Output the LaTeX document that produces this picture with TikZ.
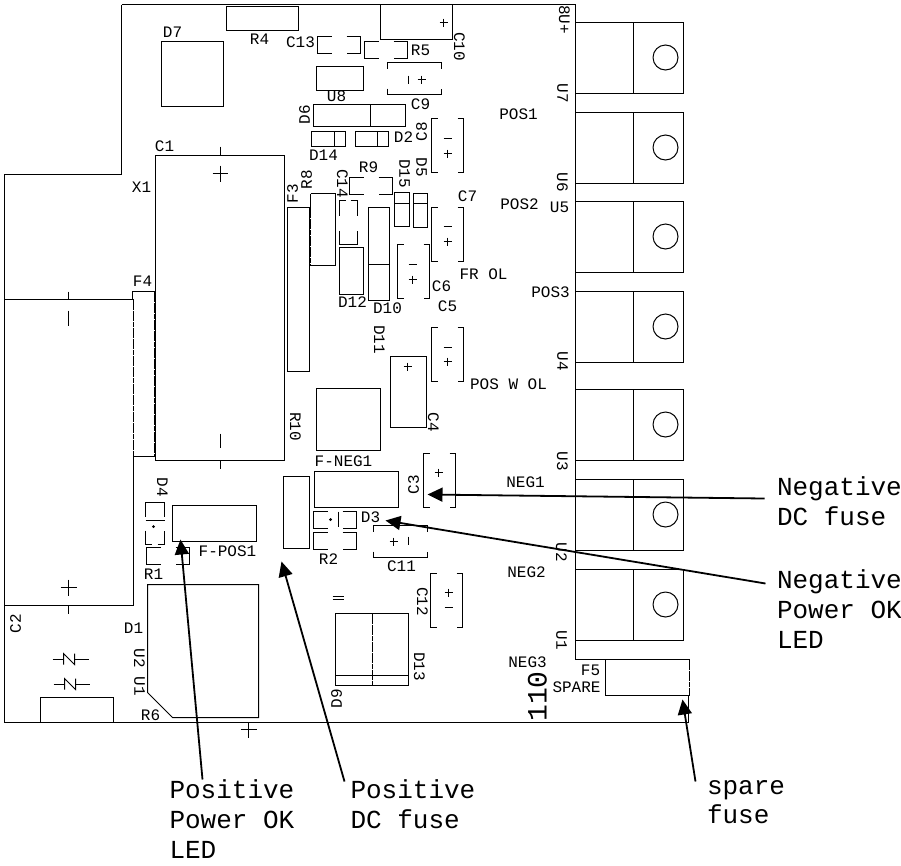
\documentclass[tikz,border=0pt]{standalone}
\usepackage{fontspec}
\setmainfont{Liberation Mono}
\usetikzlibrary{arrows.meta}
\tikzset{
lbl/.style={font=\fontsize{16}{16}\selectfont, inner sep=0pt},
cw/.style={lbl, rotate=-90},
ccw/.style={lbl, rotate=90},
callout/.style={font=\fontsize{26}{29.8}\selectfont, align=left, anchor=north west, inner sep=0pt},
leader/.style={line width=1.8pt, -{Triangle[length=15pt,width=14pt]}},
jag/.style={line width=1.5pt, dash pattern=on 5pt off 0.6pt},
tobox/.pic={
  \draw (0,0) rectangle (108,71);
  \draw (58,0) -- (58,71);
  \draw (90,35) circle [radius=12.5];
  },
capbox/.pic={
  \draw (6,0) -- (0,0) -- (0,54) -- (6,54);
  \draw (26,0) -- (32,0) -- (32,54) -- (26,54);
  },
capwide/.pic={
  \draw (0,6) -- (0,0) -- (54,0) -- (54,6);
  \draw (0,26) -- (0,32) -- (54,32) -- (54,26);
  },
brkpair/.pic={
  \draw (14,0) -- (0,0) -- (0,17) -- (14,17);
  \draw (29,0) -- (43,0) -- (43,17) -- (29,17);
  },
plusm/.pic={
  \draw (-4,0) -- (4,0);
  \draw (0,-4) -- (0,4);
  },
minush/.pic={
  \draw (-4,0) -- (4,0);
  },
minusv/.pic={
  \draw (0,-4) -- (0,4);
  },
nmark/.pic={
  \draw (-18,0) -- (-7,0);
  \draw (-7,5) -- (-7,-6) -- (4,5) -- (4,-6);
  \draw (4,0) -- (18,0);
  }
}
\begin{document}
\begin{tikzpicture}[x=1pt,y=-1pt,line width=1pt]
  \useasboundingbox (-0.5,-0.5) rectangle (900.5,864.5);
  \draw (121,4) -- (575,4) -- (575,659) -- (605,659);
  \draw (688,695) -- (688,722) -- (4,722) -- (4,174) -- (121,174) -- (121,4);
  \pic at (575,22) {tobox};
  \pic at (575,112) {tobox};
  \pic at (575,201) {tobox};
  \pic at (575,291) {tobox};
  \pic at (575,389) {tobox};
  \pic at (575,479) {tobox};
  \pic at (575,569) {tobox};
  \draw (605,659) -- (689,659);
  \draw (689,695) -- (605,695) -- (605,659);
  \draw[jag] (689,659) -- (689,695);

  \draw (161,41) rectangle (223,106);
  \draw (226,6) rectangle (298,30);
  \draw (380,4) -- (380,39) -- (452,39) -- (452,4);
  \draw (316,66) rectangle (363,90);
  \draw (313,104) rectangle (405,126);
  \draw (370,104) -- (370,126);
  \draw (311,131) rectangle (345,146);
  \draw (334,131) -- (334,146);
  \draw (355,131) rectangle (388,146);
  \draw (377,131) -- (377,146);

  \draw (155,460) -- (155,155) -- (284,155) -- (284,460) -- cycle;
  \draw (220,146) -- (220,155);
  \draw (220,460) -- (220,468);
  \draw (220,433) -- (220,447);
  \draw (212,173) -- (227,173);
  \draw (220,165) -- (220,181);
  \draw (4,299) -- (133,299);
  \draw (133,456) -- (133,605) -- (4,605);
  \draw[jag] (4,299) -- (4,605);
  \draw[jag] (133,299) -- (133,456);
  \draw (68,291) -- (68,299);
  \draw (68,310) -- (68,325);
  \draw (68,605) -- (68,613);
  \draw (60,587) -- (76,587);
  \draw (68,579) -- (68,595);
  \draw (132,299) -- (132,291) -- (154,291);
  \draw (133,456) -- (154,456);
  \draw[jag] (154,291) -- (154,456);

  \draw (287,207) rectangle (309,371);
  \draw (310,193) -- (335,193) -- (335,265) -- (310,265);
  \draw (310,193) -- (310,207);
  \draw[jag] (310,207) -- (310,265);
  \draw (339,215) -- (339,200) -- (345,200);
  \draw (350,200) -- (357,200) -- (357,215);
  \draw (339,230) -- (339,244) -- (357,244) -- (357,230);
  \draw (339,247) rectangle (363,294);
  \draw (368,207) rectangle (389,300);
  \draw (368,264) -- (389,264);
  \draw (394,192) rectangle (409,226);
  \draw (394,203) -- (409,203);
  \draw (413,193) rectangle (427,227);
  \draw (413,203) -- (427,203);

  \pic at (431,118) {capbox};
  \pic at (447,138) {minush};
  \pic at (447,153) {plusm};
  \pic at (431,207) {capbox};
  \pic at (447,226) {minush};
  \pic at (447,241) {plusm};
  \pic at (397,244) {capbox};
  \pic at (412,264) {minush};
  \pic at (412,279) {plusm};
  \pic at (431,327) {capbox};
  \pic at (447,347) {minush};
  \pic at (447,361) {plusm};
  \pic at (423,453) {capbox};
  \pic at (438,472) {plusm};
  \pic at (430,573) {capbox};
  \pic at (448,592) {plusm};
  \pic at (448,607) {minush};
  \pic at (387,62) {capwide};
  \pic at (408,79) {minusv};
  \pic at (421,79) {plusm};
  \pic at (373,525) {capwide};
  \pic at (393,541) {plusm};
  \pic at (408,540) {minusv};
  \pic at (443,22) {plusm};
  \pic at (317,36) {brkpair};
  \pic at (364,41) {brkpair};
  \pic at (349,177) {brkpair};
  \pic at (313,532) {brkpair};
  \pic at (146,547) {brkpair};
  \pic at (313,511) {brkpair};
  \draw (338,511) -- (338,526);
  \draw[fill] (330,519) circle [radius=0.8];

  \draw (316,388) rectangle (380,450);
  \draw (390,356) rectangle (426,427);
  \pic at (407,366) {plusm};
  \draw (314,471) rectangle (398,507);
  \draw (283,476) rectangle (309,548);
  \draw (172,505) rectangle (256,541);
  \draw (145,516) -- (145,502) -- (164,502) -- (164,516);
  \draw (145,520) -- (164,520);
  \draw (145,530) -- (145,544) -- (151,544);
  \draw (157,544) -- (164,544) -- (164,530);
  \draw[fill] (153,526) circle [radius=0.8];
  \draw (147,692) -- (147,584) -- (258,584) -- (258,717) -- (172,717) -- cycle;
  \draw (240,729) -- (256,729);
  \draw (248,722) -- (248,737);
  \draw (40,722) -- (40,697) -- (113,697) -- (113,722);
  \pic at (70,659) {nmark};
  \pic at (71,684) {nmark};
  \draw (335,613) rectangle (408,685);
  \draw[jag] (372,613) -- (372,685);
  \draw (335,675) -- (408,675);
  \draw (332,596) -- (343,596);
  \draw (332,599) -- (343,599);

  \node[lbl] (lblD7) at (172,32) {D7};
  \node[lbl] (lblR4) at (259,39) {R4};
  \node[lbl] (lblC13) at (300,42) {C13};
  \node[lbl] (lblR5) at (420,50) {R5};
  \node[lbl] (lblU8) at (336,96) {U8};
  \node[lbl] (lblC9) at (420,104) {C9};
  \node[lbl] (lblD2) at (403,137) {D2};
  \node[lbl] (lblD14) at (323,155) {D14};
  \node[lbl] (lblC1) at (164,146) {C1};
  \node[lbl] (lblX1) at (141,187) {X1};
  \node[lbl] (lblR9) at (368,167) {R9};
  \node[lbl] (lblF4) at (142,281) {F4};
  \node[lbl] (lblPOS1) at (518,114) {POS1};
  \node[lbl] (lblPOS2) at (519,204) {POS2};
  \node[lbl] (lblU5) at (559,207) {U5};
  \node[lbl] (lblC7) at (467,196) {C7};
  \node[lbl] (lblFR) at (483,274) {FR OL};
  \node[lbl] (lblC6) at (441,286) {C6};
  \node[lbl] (lblPOS3) at (550,292) {POS3};
  \node[lbl] (lblC5) at (447,306) {C5};
  \node[lbl] (lblD12) at (352,302) {D12};
  \node[lbl] (lblD10) at (387,308) {D10};
  \node[lbl] (lblPOSW) at (508,384) {POS W OL};
  \node[lbl] (lblFNEG) at (343,461) {F-NEG1};
  \node[lbl] (lblNEG1) at (525,482) {NEG1};
  \node[lbl] (lblD3) at (370,517) {D3};
  \node[lbl] (lblR2) at (328,559) {R2};
  \node[lbl] (lblC11) at (401,566) {C11};
  \node[lbl] (lblNEG2) at (526,572) {NEG2};
  \node[lbl] (lblNEG3) at (527,662) {NEG3};
  \node[lbl] (lblF5) at (590,670) {F5};
  \node[lbl] (lblSPARE) at (576,687) {SPARE};
  \node[lbl] (lblFPOS) at (227,551) {F-POS1};
  \node[lbl] (lblR1) at (153,574) {R1};
  \node[lbl] (lblD1) at (133,628) {D1};
  \node[lbl] (lblR6) at (150,715) {R6};

  \node[cw] (lblC10) at (459,46) {C10};
  \node[cw] (lbl8U) at (564,19) {8U+};
  \node[cw] (lblU7) at (562,93) {U7};
  \node[cw] (lblU6) at (562,182) {U6};
  \node[cw] (lblU4) at (562,361) {U4};
  \node[cw] (lblU3) at (562,461) {U3};
  \node[cw] (lblU2) at (561,552) {U2};
  \node[cw] (lblU1) at (561,640) {U1};
  \node[cw] (lblD5) at (421,167) {D5};
  \node[cw] (lblD15) at (404,173) {D15};
  \node[cw] (lblC14) at (342,183) {C14};
  \node[cw] (lblD11) at (379,339) {D11};
  \node[cw] (lblR10) at (295,426) {R10};
  \node[cw] (lblC4) at (433,422) {C4};
  \node[cw] (lblC12) at (422,601) {C12};
  \node[cw] (lblD13) at (419,666) {D13};
  \node[cw] (lblD4) at (162,487) {D4};
  \node[cw] (lblUb) at (139,658) {U2};
  \node[cw] (lblUa) at (139,686) {U1};
  \node[ccw] (lblD6) at (304,114) {D6};
  \node[ccw] (lblC8) at (421,131) {C8};
  \node[ccw] (lblR8) at (306,179) {R8};
  \node[ccw] (lblF3) at (292,193) {F3};
  \node[ccw] (lblC3) at (413,484) {C3};
  \node[ccw] (lblD9) at (336,698) {D9};
  \node[ccw] (lblC2) at (15,623) {C2};
  \node[ccw, font=\fontsize{28}{28}\selectfont] (lblrev) at (537,696) {110};

  \node[callout] (negdc) at (776,476) {Negative\\DC fuse};
  \node[callout] (negled) at (776,569) {Negative\\Power OK\\LED};
  \node[callout] (spare) at (706,779) {spare\\fuse};
  \node[callout] (posdc) at (349.5,779) {Positive\\DC fuse};
  \node[callout] (posled) at (168.5,779) {Positive\\Power OK\\LED};
  \coordinate (tipnegdc) at (427,494);
  \coordinate (tipnegled) at (385,520);
  \coordinate (tipspare) at (682,699);
  \coordinate (tipposdc) at (281,561);
  \coordinate (tipposled) at (180,539);
  \draw[leader] ([shift={(-12,22)}]negdc.north west) -- (tipnegdc);
  \draw[leader] ([shift={(-11,14)}]negled.north west) -- (tipnegled);
  \draw[leader] ([shift={(-11,2)}]spare.north west) -- (tipspare);
  \draw[leader] ([shift={(-5.5,2)}]posdc.north west) -- (tipposdc);
  \draw[leader] ([shift={(33.5,0)}]posled.north west) -- (tipposled);
\end{tikzpicture}
\end{document}
